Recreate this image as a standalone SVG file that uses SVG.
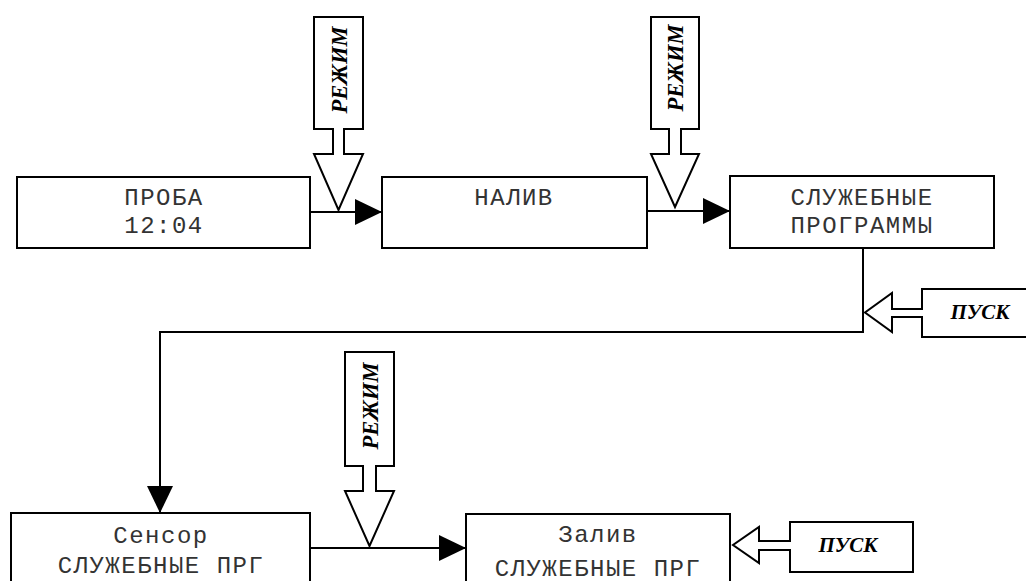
<svg xmlns="http://www.w3.org/2000/svg" width="1026" height="581" viewBox="0 0 1026 581">
<style>
.box{fill:#fff;stroke:#000;stroke-width:2}
.lbl{font-family:"Liberation Mono","Courier New",monospace;font-size:24px;letter-spacing:1.5px;fill:#333;text-anchor:middle}
.ha{fill:#fff;stroke:#000;stroke-width:2;stroke-linejoin:miter}
.ht{font-family:"Liberation Serif","Times New Roman",serif;font-size:22.5px;font-weight:bold;font-style:italic;fill:#000;text-anchor:middle}
.pt{font-size:21px}
.con{fill:none;stroke:#000;stroke-width:2}
</style>
<defs>
<marker id="ah" markerUnits="userSpaceOnUse" markerWidth="28" markerHeight="26" refX="27" refY="13" orient="auto">
<path d="M0,0 L27,13 L0,26 Z" fill="#000"/>
</marker>
</defs>
<rect width="1026" height="581" fill="#fff"/>

<g id="connectors">
<line class="con" x1="310" y1="212" x2="382" y2="212" marker-end="url(#ah)"/>
<line class="con" x1="647" y1="211" x2="730" y2="211" marker-end="url(#ah)"/>
<polyline class="con" points="863,248 863,332 160,332 160,513" marker-end="url(#ah)"/>
<line class="con" x1="310" y1="548" x2="466" y2="548" marker-end="url(#ah)"/>
</g>

<g id="node-proba">
<rect class="box" x="17" y="177" width="293" height="71"/>
<text class="lbl" x="164" y="205">ПРОБА</text>
<text class="lbl" x="164" y="233">12:04</text>
</g>

<g id="node-naliv">
<rect class="box" x="382" y="177" width="265" height="71"/>
<text class="lbl" x="514" y="205">НАЛИВ</text>
</g>

<g id="node-service">
<rect class="box" x="730" y="176" width="264" height="72"/>
<text class="lbl" x="862" y="205">СЛУЖЕБНЫЕ</text>
<text class="lbl" x="862" y="233">ПРОГРАММЫ</text>
</g>

<g id="node-sensor">
<rect class="box" x="11" y="513" width="299" height="80"/>
<text class="lbl" x="161" y="543">Сенсор</text>
<text class="lbl" x="161" y="573">СЛУЖЕБНЫЕ ПРГ</text>
</g>

<g id="node-zaliv">
<rect class="box" x="466" y="514" width="264" height="80"/>
<text class="lbl" x="598" y="542">Залив</text>
<text class="lbl" x="598" y="576">СЛУЖЕБНЫЕ ПРГ</text>
</g>

<g id="rezhim-1">
<path class="ha" d="M314,17 L363,17 L363,129 L344,129 L344,154 L363,154 L338.5,210 L314,154 L333,154 L333,129 L314,129 Z"/>
<text class="ht" transform="translate(347,70) rotate(-90)">РЕЖИМ</text>
</g>

<g id="rezhim-2">
<path class="ha" d="M651,17 L699,17 L699,129 L681,129 L681,154 L699,154 L675,207 L651,154 L669,154 L669,129 L651,129 Z"/>
<text class="ht" transform="translate(683,68) rotate(-90)">РЕЖИМ</text>
</g>

<g id="rezhim-3">
<path class="ha" d="M345,352 L394,352 L394,466 L376,466 L376,491 L394,491 L369.5,546 L345,491 L363,491 L363,466 L345,466 Z"/>
<text class="ht" transform="translate(378,406) rotate(-90)">РЕЖИМ</text>
</g>

<g id="pusk-1">
<path class="ha" d="M1032,289 L922,289 L922,309 L892,309 L892,293 L865,312.5 L892,332 L892,317 L922,317 L922,337 L1032,337"/>
<text class="ht pt" x="980" y="319">ПУСК</text>
</g>

<g id="pusk-2">
<path class="ha" d="M913,522 L790,522 L790,541 L759,541 L759,527 L733,545 L759,563 L759,550 L790,550 L790,572 L913,572 Z"/>
<text class="ht pt" x="848" y="552">ПУСК</text>
</g>
</svg>
